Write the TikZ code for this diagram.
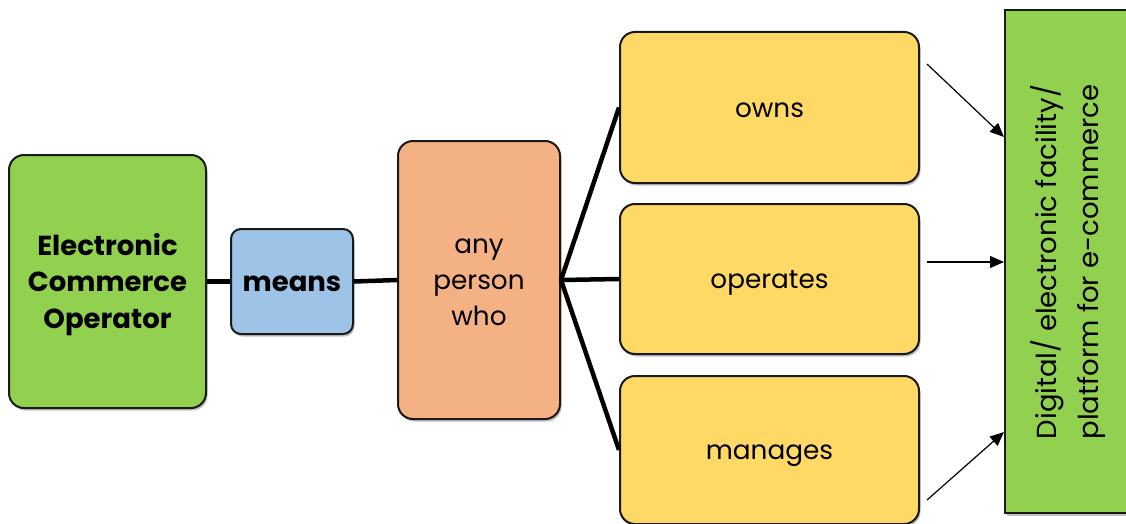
\documentclass[tikz,border=0pt]{standalone}
\usepackage{fontspec}
\setmainfont{Poppins}
\usetikzlibrary{shadows,arrows.meta}
\definecolor{cgreen}{HTML}{92D050}
\definecolor{cblue}{HTML}{9DC3E6}
\definecolor{corange}{HTML}{F4B183}
\definecolor{cyellow}{HTML}{FFD966}
\newcommand{\lowtxt}[2]{\raisebox{-#1}[\height][\depth]{\begin{tabular}{@{}c@{}}#2\end{tabular}}}
\tikzset{
  box/.style={draw=black!90, line width=2pt, rounded corners=15pt, inner sep=0pt, align=center,
    font=\fontsize{26.3}{36}\selectfont,
    drop shadow={shadow xshift=1.5pt, shadow yshift=-2.5pt, opacity=0.25, fill=black}},
  boldbox/.style={box, font=\fontsize{27.5}{36.5}\selectfont\bfseries},
  link/.style={line width=4.5pt},
  arr/.style={line width=1.2pt, -{Triangle[length=14pt,width=12pt]}}
}
\begin{document}
\begin{tikzpicture}[x=1pt,y=-1pt]
\useasboundingbox (0,0) rectangle (1126,524);
\node[boldbox, fill=cgreen, minimum width=197pt, minimum height=253pt] (eco) at (107.5,281.5) {\lowtxt{3pt}{Electronic\\Commerce\\Operator}};
\node[boldbox, fill=cblue, rounded corners=10pt, minimum width=122pt, minimum height=105pt] (means) at (292,281.5) {\lowtxt{3pt}{means}};
\node[box, fill=corange, minimum width=162pt, minimum height=278pt] (any) at (479,280) {\lowtxt{2.5pt}{any\\person\\who}};
\node[box, fill=cyellow, minimum width=299pt, minimum height=151pt] (owns) at (769.5,107.5) {\lowtxt{3pt}{owns}};
\node[box, fill=cyellow, minimum width=299pt, minimum height=150pt] (oper) at (769.5,279) {\lowtxt{2.5pt}{operates}};
\node[box, fill=cyellow, minimum width=299pt, minimum height=148pt] (mana) at (769.5,450) {\lowtxt{2.5pt}{manages}};
\node[draw=black!90, line width=2pt, fill=cgreen, inner sep=0pt, minimum width=140pt, minimum height=503pt,
  drop shadow={shadow xshift=1.5pt, shadow yshift=-2.5pt, opacity=0.25, fill=black}] (plat) at (1075,261.5) {};
\node[rotate=90, align=center, font=\fontsize{27.5}{42}\selectfont] (plattext) at (1068,262) {Digital/ electronic facility/\\platform for e-commerce};
\draw[link] (eco.east) -- (means.west);
\draw[link] (means.east) -- (any.west);
\draw[link] (any.east) -- (owns.west);
\draw[link] (any.east) -- (oper.west);
\draw[link] (any.east) -- (mana.west);
\coordinate (a1) at (927,64);
\coordinate (a2) at (927,262);
\coordinate (a3) at (927,500);
\draw[arr] (a1) -- (plat.west |- 0,137);
\draw[arr] (a2) -- (plat.west |- 0,262);
\draw[arr] (a3) -- (plat.west |- 0,432);
\end{tikzpicture}
\end{document}
